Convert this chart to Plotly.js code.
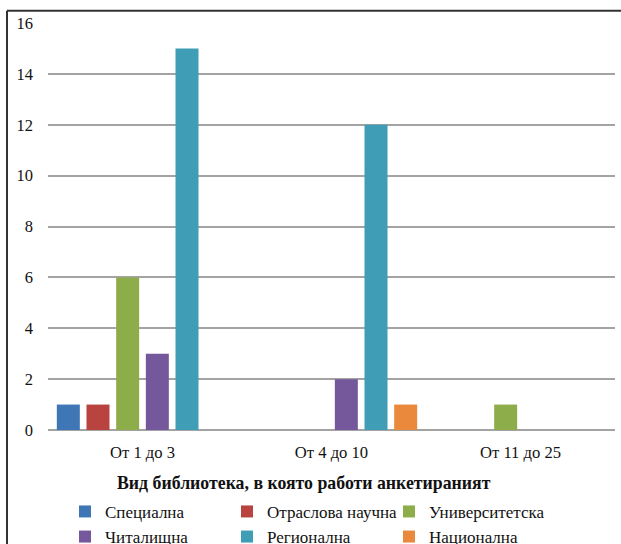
<!DOCTYPE html>
<html>
<head>
<meta charset="utf-8">
<script src="https://cdn.plot.ly/plotly-3.0.1.min.js"></script>
<style>
  html, body { margin: 0; padding: 0; background: #fff; }
  #chart { width: 621px; height: 544px; }
</style>
</head>
<body>
<div id="chart"></div>
<script>
// Working-experience groups (years) on the x axis
const categories = ['От 1 до 3', 'От 4 до 10', 'От 11 до 25'];

// Number of respondents per library type
const seriesNames = ['Специална', 'Отраслова научна', 'Университетска', 'Читалищна', 'Регионална', 'Национална'];
const specialna = [1, 0, 0];
const otraslova = [1, 0, 0];
const universitetska = [6, 0, 1];
const chitalishtna = [3, 2, 0];
const regionalna = [15, 12, 0];
const nacionalna = [0, 1, 0];
const seriesValues = [specialna, otraslova, universitetska, chitalishtna, regionalna, nacionalna];

const seriesColors = ['#3F76B6', '#B8433F', '#8DAD4B', '#75579C', '#3F9DB5', '#EA883B'];

const yTicks = [0, 2, 4, 6, 8, 10, 12, 14, 16];
const axisTitle = 'Вид библиотека, в която работи анкетираният';

const FONT = "'Liberation Serif', 'Times New Roman', serif";

const traces = seriesNames.map((name, i) => ({
  type: 'bar',
  name: name,
  x: categories,
  y: seriesValues[i],
  marker: { color: seriesColors[i], line: { width: 0 } },
  hoverinfo: 'x+y+name'
}));

const layout = {
  width: 621,
  height: 544,
  margin: { l: 48, r: 6, t: 23, b: 114, autoexpand: false },
  paper_bgcolor: '#ffffff',
  plot_bgcolor: '#ffffff',
  font: { family: FONT, size: 16, color: '#111' },
  barmode: 'group',
  bargap: 0.058,
  bargroupgap: 0.225,
  showlegend: true,
  xaxis: {
    type: 'category',
    showgrid: false,
    showline: false,
    zeroline: false,
    ticks: '',
    ticklabelstandoff: 10,
    tickfont: { family: FONT, size: 16.6, color: '#111' }
  },
  yaxis: {
    range: [0, 16],
    tickvals: yTicks,
    ticktext: yTicks.map(String),
    showgrid: true,
    gridcolor: '#A3A3A3',
    gridwidth: 2,
    zeroline: true,
    zerolinecolor: '#A3A3A3',
    zerolinewidth: 2,
    showline: false,
    ticks: '',
    ticklabelstandoff: 14,
    tickfont: { family: FONT, size: 16.5, color: '#111' }
  },
  legend: {
    orientation: 'h',
    x: 0.03,
    xanchor: 'left',
    y: -0.157,
    yanchor: 'top',
    entrywidth: 117,
    entrywidthmode: 'pixels',
    itemwidth: 30,
    tracegroupgap: 0,
    font: { family: FONT, size: 17, color: '#111' },
    bgcolor: 'rgba(0,0,0,0)'
  },
  annotations: [{
    text: '<b>' + axisTitle + '</b>',
    xref: 'paper', yref: 'paper',
    x: 0.4515, y: -0.129,
    xanchor: 'center', yanchor: 'middle',
    showarrow: false,
    font: { family: FONT, size: 17.8, color: '#111' }
  }],
  shapes: [
    // frame: left and top edges
    { type: 'line', xref: 'paper', yref: 'paper', x0: -0.0723, x1: -0.0723, y0: -0.32, y1: 1.0302,
      line: { color: '#333', width: 2 } },
    { type: 'line', xref: 'paper', yref: 'paper', x0: -0.0723, x1: 1.02, y0: 1.0302, y1: 1.0302,
      line: { color: '#333', width: 2 } }
  ]
};

Plotly.newPlot('chart', traces, layout, { displayModeBar: false, staticPlot: true });
</script>
</body>
</html>
